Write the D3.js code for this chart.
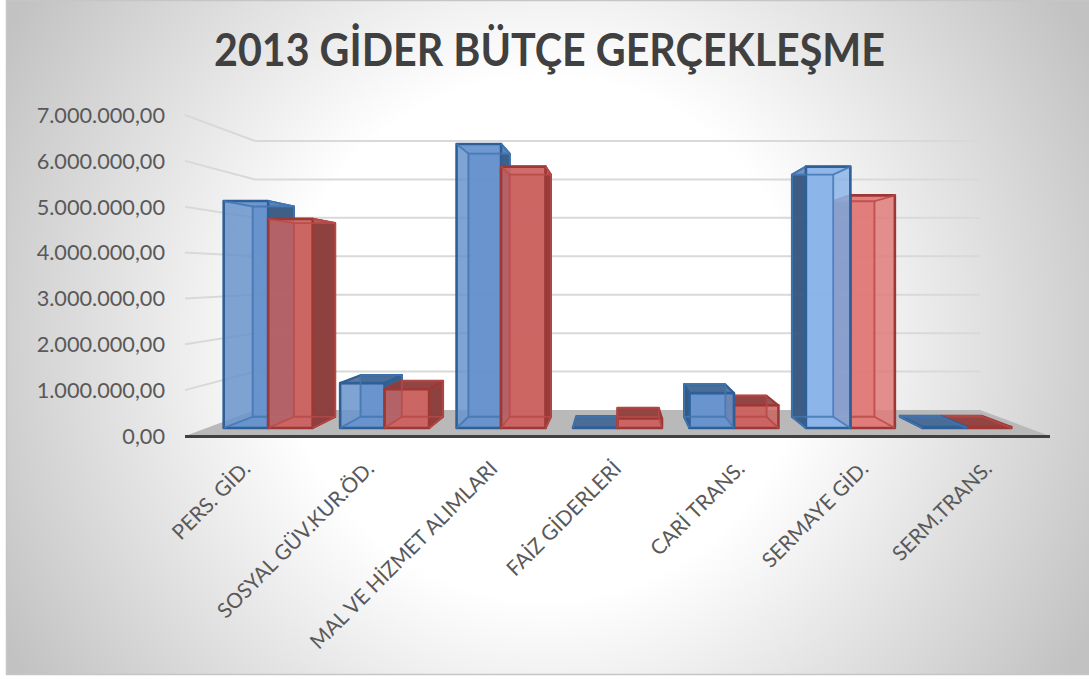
<!DOCTYPE html>
<html><head><meta charset="utf-8">
<script src="https://cdn.jsdelivr.net/npm/d3@7/dist/d3.min.js"></script>
<style>html,body{margin:0;padding:0;background:#fff;overflow:hidden}svg{display:block}</style>
</head><body><svg id="c" width="1089" height="679"></svg>
<script>
const title = "2013 GİDER BÜTÇE GERÇEKLEŞME";
const categories = ["PERS. GİD.","SOSYAL GÜV.KUR.ÖD.","MAL VE HİZMET ALIMLARI","FAİZ GİDERLERİ","CARİ TRANS.","SERMAYE GİD.","SERM.TRANS."];
const seriesA = [5210000,1030000,6520000,10000,800000,6000000,20000];
const seriesB = [4800000,890000,6000000,220000,520000,5340000,20000];
const yTicks = [0,1000000,2000000,3000000,4000000,5000000,6000000,7000000];

const svg = d3.select("#c");
const defs = svg.append("defs");
const bg = defs.append("radialGradient").attr("id","bg").attr("gradientUnits","userSpaceOnUse")
  .attr("cx",545).attr("cy",338).attr("r",620);
bg.append("stop").attr("offset","0.42").attr("stop-color","#ffffff");
bg.append("stop").attr("offset","1").attr("stop-color","#c2c2c2");
defs.append("filter").attr("id","soft").attr("x","-5%").attr("y","-5%").attr("width","110%").attr("height","110%")
  .append("feGaussianBlur").attr("stdDeviation",0.5);
svg.append("rect").attr("x",6.5).attr("y",0.5).attr("width",1090).attr("height",674)
  .attr("fill","url(#bg)").attr("stroke","#c6c6c6").attr("stroke-width",1.5);

// perspective frame
const vx = 617.5, vy = 275.5;
const sFront = 1, sBack = 0.838, sBar0 = 0.95, sBar1 = 0.88;
const project = (x,y,s)=>[vx+(x-vx)*s, vy+(y-vy)*s];
const y = d3.scaleLinear().domain([0,7000000]).range([436,115]);
const xFront = d3.scaleBand().domain(categories).range([185,1050]);
const x0 = d3.scaleBand().domain(categories).range([188.5,1046.5]).paddingInner(0.236).paddingOuter(0.118);
const x1 = d3.scaleBand().domain([0,1]).range([0,x0.bandwidth()]);

const fmt = v => d3.format(",.2f")(v).replace(/,/g,"#").replace(".",",").replace(/#/g,".");

const gy = yTicks.slice(1);
const scene = svg.append("g").attr("filter","url(#soft)");
const grid = scene.append("g").attr("fill","none").attr("stroke","#d9d9d9").attr("stroke-width",2);
grid.selectAll("path").data(gy).join("path").attr("d",v=>{
  const a=project(185,y(v),sFront), b=project(185,y(v),sBack), c=project(1050,y(v),sBack);
  return d3.line()([a,b,c]);
});

// floor
scene.append("path").attr("fill","#b9b9b9").attr("d",d3.line()([
  project(185,y(0),sFront),project(1050,y(0),sFront),project(1050,y(0),sBack),project(185,y(0),sBack)])+"Z");

// bars
const styles = {
  0:{front:"#6693cc",side:"#2f4e72",top:"#44688f",stroke:"#2f5f98",inner:"#4577b3"},
  1:{front:"#cb6462",side:"#7c3433",top:"#8a3f3e",stroke:"#9e3836",inner:"#b84a48"}
};
function bar(cat,si,v,i){
  const st = styles[si];
  const xa = x0(cat)+x1(si), xb = xa+x1.bandwidth();
  const yt = y(v), yb = y(0);
  const P = project;
  const g = scene.append("g").attr("stroke-linejoin","round");
  const bright = i===5;
  const fr = bright ? (si===0?"#8ab4e8":"#e07b79") : st.front;
  const stk = st.stroke;
  const face = (pts,fill,op,sc,sw)=>g.append("path").attr("d",d3.line()(pts)+"Z")
    .attr("fill",fill).attr("fill-opacity",op).attr("stroke",sc).attr("stroke-width",sw);
  face([P(xa,yt,sBar1),P(xb,yt,sBar1),P(xb,yb,sBar1),P(xa,yb,sBar1)],fr,0.9,st.inner,1.8);
  face([P(xa,yb,sBar1),P(xb,yb,sBar1),P(xb,yb,sBar0),P(xa,yb,sBar0)],fr,0.9,st.inner,1.8);
  if (xa>vx) face([P(xa,yt,sBar0),P(xa,yb,sBar0),P(xa,yb,sBar1),P(xa,yt,sBar1)],st.side,0.85,stk,2.2);
  if (xb<vx) face([P(xb,yt,sBar0),P(xb,yb,sBar0),P(xb,yb,sBar1),P(xb,yt,sBar1)],st.side,0.78,stk,2.2);
  if (yt>vy) face([P(xa,yt,sBar0),P(xb,yt,sBar0),P(xb,yt,sBar1),P(xa,yt,sBar1)],st.top,0.88,stk,2.2);
  else face([P(xa,yt,sBar0),P(xb,yt,sBar0),P(xb,yt,sBar1),P(xa,yt,sBar1)],fr,0.6,st.inner,1.6);
  face([P(xa,yt,sBar0),P(xb,yt,sBar0),P(xb,yb,sBar0),P(xa,yb,sBar0)],fr,0.84,stk,2.6);
  // inner edges seen through the translucent front
  const edges = d3.line();
  const ov = g.append("g").attr("fill","none").attr("stroke",st.inner).attr("stroke-width",1.8).attr("stroke-opacity",0.8);
  ov.append("path").attr("d",edges([P(xa,yt,sBar1),P(xb,yt,sBar1),P(xb,yb,sBar1),P(xa,yb,sBar1)])+"Z");
  ov.append("path").attr("d",edges([P(xa,yb,sBar1),P(xa,yb,sBar0)]));
  ov.append("path").attr("d",edges([P(xb,yb,sBar1),P(xb,yb,sBar0)]));
  if (yt<vy) {
    ov.append("path").attr("d",edges([P(xa,yt,sBar1),P(xa,yt,sBar0)]));
    ov.append("path").attr("d",edges([P(xb,yt,sBar1),P(xb,yt,sBar0)]));
  }
}
const items = [];
categories.forEach((c,i)=>{
  items.push({c,si:0,v:seriesA[i],i,xm:x0(c)+x0.bandwidth()/4});
  items.push({c,si:1,v:seriesB[i],i,xm:x0(c)+x0.bandwidth()*3/4});
});
items.sort((a,b)=>Math.abs(b.xm-vx)-Math.abs(a.xm-vx)).forEach(d=>bar(d.c,d.si,d.v,d.i));

// axis line
scene.append("line").attr("x1",185).attr("x2",1050).attr("y1",y(0)+0.5).attr("y2",y(0)+0.5)
  .attr("stroke","#404040").attr("stroke-width",3.2);

// y labels
svg.append("g").selectAll("text").data(yTicks).join("text")
  .attr("x",165).attr("y",v=>y(v)).attr("dy","0.36em").attr("text-anchor","end")
  .attr("font-family","Lato").attr("font-size",21.7).attr("fill","#595959").text(fmt);

// x labels
svg.append("g").selectAll("text").data(categories).join("text")
  .attr("transform",c=>`translate(${xFront(c)+xFront.bandwidth()/2+5},${470}) rotate(-45)`)
  .attr("text-anchor","end").attr("font-family","Lato").attr("font-size",20.8).attr("fill","#595959")
  .text(c=>c);

svg.append("text").attr("x",549.5).attr("y",66).attr("text-anchor","middle")
  .attr("textLength",671).attr("lengthAdjust","spacingAndGlyphs")
  .attr("font-family","Lato").attr("font-weight",700).attr("font-size",45).attr("fill","#404040").text(title);
</script></body></html>
